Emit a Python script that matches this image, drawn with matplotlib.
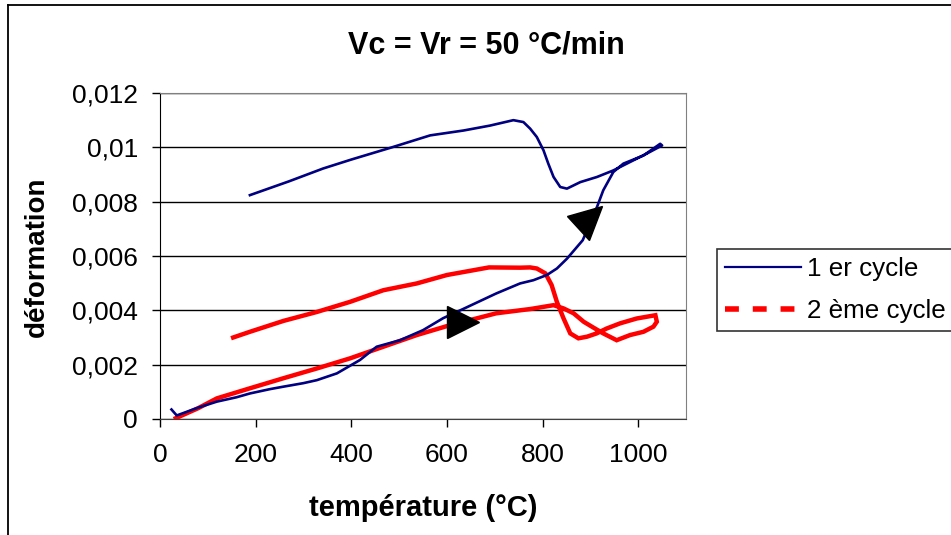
import matplotlib.pyplot as plt
from matplotlib.lines import Line2D
from matplotlib.markers import MarkerStyle
from matplotlib.transforms import Affine2D

# 1er cycle: chauffage puis refroidissement
cycle1_heat_T = [24, 35, 80, 119, 160, 188, 230, 258, 300, 328, 370, 418, 453, 502, 550,
                 592, 634, 703, 753, 781, 809, 830, 851, 884, 914, 927, 948, 969, 1011, 1046]
cycle1_heat_def = [0.00035, 0.00013, 0.00042, 0.00064, 0.0008, 0.00094, 0.0011, 0.00119, 0.00132,
                   0.00143, 0.00168, 0.00217, 0.00266, 0.0029, 0.00327, 0.00371, 0.00405,
                   0.00462, 0.00499, 0.00511, 0.0053, 0.00554, 0.0059, 0.00658, 0.00781,
                   0.00842, 0.00909, 0.0094, 0.0097, 0.01013]
cycle1_cool_T = [1050, 1018, 983, 948, 914, 879, 851, 837, 823, 812, 802, 788, 774, 760, 739,
                 690, 635, 565, 485, 400, 341, 270, 188]
cycle1_cool_def = [0.01007, 0.00977, 0.00946, 0.00915, 0.00891, 0.00872, 0.00848, 0.00854,
                   0.00891, 0.0094, 0.00989, 0.01038, 0.01069, 0.01093, 0.011, 0.0108,
                   0.01062, 0.01044, 0.0100, 0.00955, 0.00922, 0.00875, 0.00824]

# 2 ème cycle
cycle2_heat_T = [33, 80, 119, 188, 258, 328, 397, 467, 537, 600, 703, 775, 823, 844, 865,
                 886, 903, 927, 955, 983, 1011, 1032, 1039, 1036]
cycle2_heat_def = [0.00003, 0.0004, 0.00076, 0.00113, 0.0015, 0.00186, 0.00223, 0.00266,
                   0.00309, 0.00342, 0.00389, 0.00405, 0.00419, 0.00407, 0.00389, 0.00358,
                   0.0034, 0.00315, 0.0029, 0.00309, 0.00321, 0.0034, 0.00358, 0.00382]
cycle2_cool_T = [1036, 997, 962, 934, 913, 893, 875, 858, 844, 830, 819, 806, 788, 774, 753,
                 688, 600, 537, 467, 397, 328, 258, 188, 153]
cycle2_cool_def = [0.00382, 0.0037, 0.00352, 0.00333, 0.00315, 0.00303, 0.00297, 0.00315,
                   0.0037, 0.00431, 0.00493, 0.00536, 0.00554, 0.00558, 0.00557, 0.00558,
                   0.0053, 0.00499, 0.00474, 0.00431, 0.00394, 0.00361, 0.00321, 0.003]

# fleches (position, angle)
arrow_T = [634, 900]
arrow_def = [0.00358, 0.00743]
arrow_angle = [0, 42]

x_ticks = [0, 200, 400, 600, 800, 1000]
y_ticks = [0, 0.002, 0.004, 0.006, 0.008, 0.01, 0.012]
y_tick_labels = ["0", "0,002", "0,004", "0,006", "0,008", "0,01", "0,012"]

plt.rcParams['font.family'] = ['Liberation Sans', 'DejaVu Sans']

W, H = 951, 535
fig = plt.figure(figsize=(W / 100, H / 100), dpi=100)
ax = fig.add_axes([160 / W, (H - 419) / H, (686 - 160) / W, (419 - 93) / H])

ax.plot(cycle1_heat_T + cycle1_cool_T, cycle1_heat_def + cycle1_cool_def,
        color='#000080', lw=1.9, zorder=3)
ax.plot(cycle2_heat_T + cycle2_cool_T, cycle2_heat_def + cycle2_cool_def,
        color='#ff0000', lw=3.2, zorder=2, solid_joinstyle='miter')

for t, d, a in zip(arrow_T, arrow_def, arrow_angle):
    m = MarkerStyle('>', transform=Affine2D().rotate_deg(a))
    ax.plot([t], [d], marker=m, markersize=23, color='black', zorder=4)

ax.set_xlim(0, 1100)
ax.set_ylim(0, 0.012)
ax.set_xticks(x_ticks)
ax.set_yticks(y_ticks)
ax.set_yticklabels(y_tick_labels)
ax.tick_params(labelsize=19, length=6, width=1, color='black')
ax.tick_params(axis='y', pad=10)
ax.tick_params(axis='x', pad=11)
ax.yaxis.grid(True, color='black', lw=1)
ax.set_axisbelow(True)
for s in ['top', 'right']:
    ax.spines[s].set_color('#808080')
ax.spines['left'].set_color('black')
ax.spines['bottom'].set_color('#404040')

fig.text(486 / W, 1 - 45 / H, 'Vc = Vr = 50 °C/min', fontsize=22, fontweight='bold',
         ha='center', va='center')
fig.text(423 / W, 1 - 508 / H, 'température (°C)', fontsize=21, fontweight='bold',
         ha='center', va='center')
fig.text(37 / W, 1 - 257 / H, 'déformation', fontsize=20, fontweight='bold',
         ha='center', va='center', rotation=90)

handles = [Line2D([], [], color='#000080', lw=1.6),
           Line2D([], [], color='#ff0000', lw=4, linestyle=(0, (2.5, 2.5)))]
leg = fig.legend(handles, ['1 er cycle', '2 ème cycle'], loc='upper left',
                 bbox_to_anchor=(717 / W, 1 - 249 / H), fontsize=18.7, frameon=True,
                 fancybox=False, edgecolor='black', handlelength=2.95, handletextpad=0.2,
                 borderpad=0.3, labelspacing=0.72, borderaxespad=0)
leg.get_frame().set_linewidth(1.2)

# cadre du graphique
fig.add_artist(Line2D([8 / W, 1], [1 - 5 / H, 1 - 5 / H], color='black', lw=1.3))
fig.add_artist(Line2D([8 / W, 8 / W], [0, 1 - 5 / H], color='black', lw=1.3))

fig.savefig('out.png', dpi=100)
